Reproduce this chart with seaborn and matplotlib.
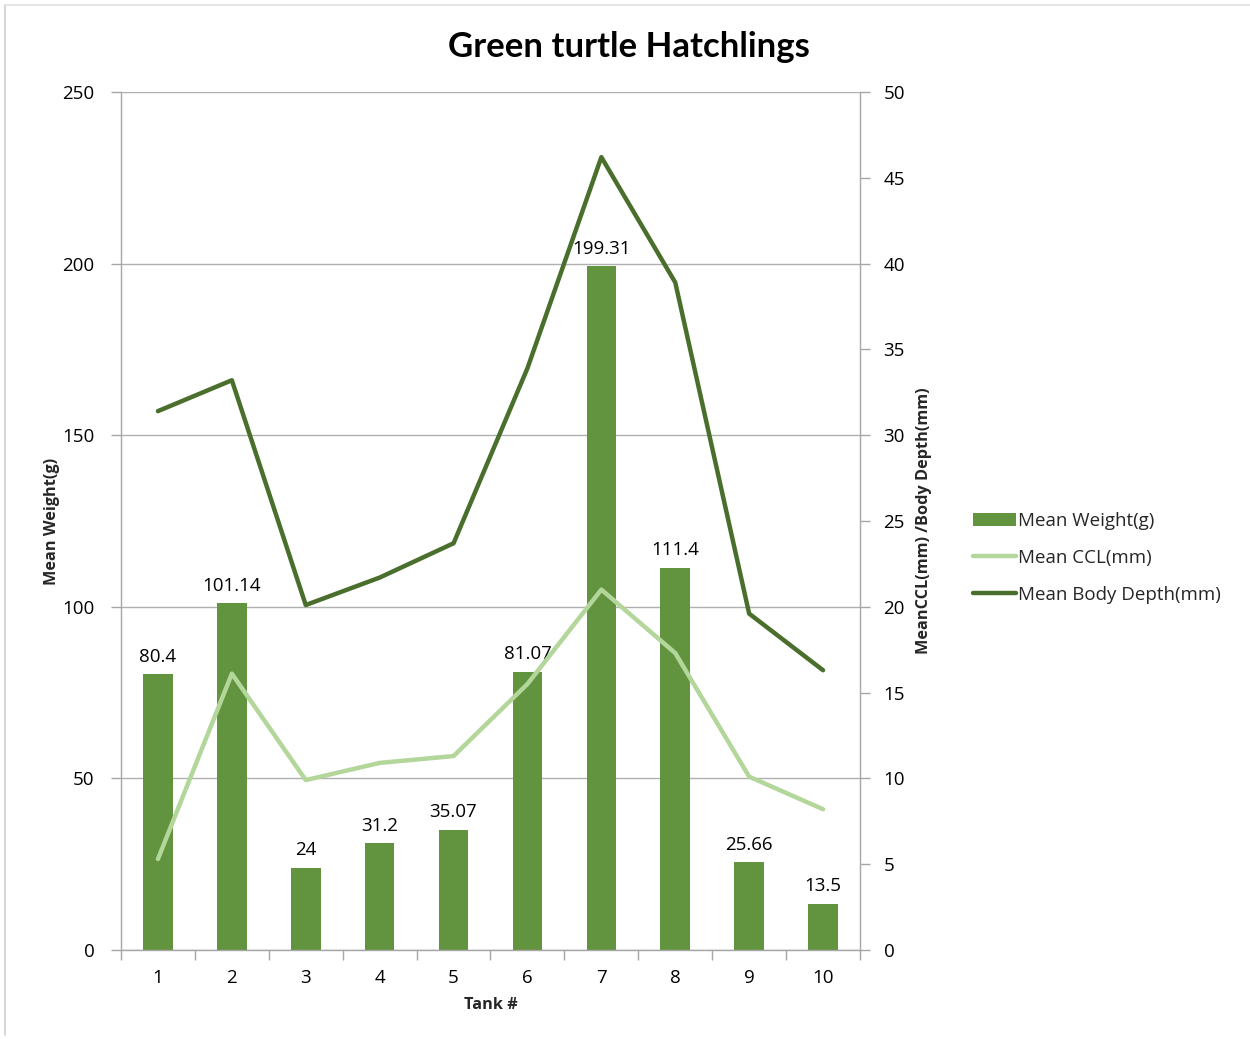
import matplotlib
matplotlib.use("Agg")
import matplotlib.pyplot as plt
from matplotlib.lines import Line2D
from matplotlib.patches import Patch
import seaborn as sns
import pandas as pd

tanks = ["1", "2", "3", "4", "5", "6", "7", "8", "9", "10"]
mean_weight = [80.4, 101.14, 24, 31.2, 35.07, 81.07, 199.31, 111.4, 25.66, 13.5]
mean_ccl = [5.3, 16.1, 9.9, 10.9, 11.3, 15.5, 21.0, 17.3, 10.1, 8.2]
mean_body_depth = [31.4, 33.2, 20.1, 21.7, 23.7, 33.9, 46.2, 38.9, 19.6, 16.3]

bar_color = "#62933F"
ccl_color = "#B3D69A"
depth_color = "#4A6F2D"
axis_gray = "#A6A6A6"
font = "Open Sans"
fs = 13.5
label_fs = 11.7

sns.set_theme(style="white")
plt.rcParams["font.family"] = [font, "DejaVu Sans"]

df = pd.DataFrame({"tank": tanks, "weight": mean_weight,
                   "ccl": mean_ccl, "depth": mean_body_depth})
df["pos"] = range(len(df))

fig = plt.figure(figsize=(12.5, 10.39), dpi=100)
ax = fig.add_axes([0.0968, 0.0857, 0.5912, 0.8258])

sns.barplot(data=df, x="tank", y="weight", color=bar_color, saturation=1,
            width=0.4, ax=ax, zorder=2)
for b in ax.patches:
    b.set_edgecolor("none")
ax.bar_label(ax.containers[0], labels=[f"{v:g}" for v in mean_weight],
             padding=6, fontsize=fs, color="#000000")

ax.set_xlim(-0.5, len(tanks) - 0.5)
ax.set_ylim(0, 250)
ax.set_yticks([0, 50, 100, 150, 200, 250])
ax.yaxis.grid(True, color="#B0B0B0", linewidth=1, zorder=0)
ax.set_axisbelow(True)

# category labels centred, tick marks on the boundaries
ax.set_xticks([i for i in range(len(tanks))], minor=True)
ax.set_xticklabels(tanks, minor=True)
ax.set_xticks([i - 0.5 for i in range(len(tanks) + 1)])
ax.set_xticklabels([])
ax.tick_params(axis="x", which="major", length=7, color=axis_gray, width=1,
               direction="out", bottom=True)
ax.tick_params(axis="x", which="minor", length=0, labelsize=fs, pad=14,
               labelcolor="#000000")
ax.tick_params(axis="y", length=7, color=axis_gray, width=1, direction="out",
               left=True, labelsize=fs, pad=12, labelcolor="#000000")

for s in ["left", "bottom", "right"]:
    ax.spines[s].set_visible(True)
    ax.spines[s].set_color(axis_gray)
    ax.spines[s].set_linewidth(1)
ax.spines["top"].set_visible(False)

ax.set_xlabel("Tank #", fontsize=label_fs, fontweight="bold", labelpad=7)
ax.set_ylabel("Mean Weight(g)", fontsize=label_fs, fontweight="bold", labelpad=2)

ax2 = ax.twinx()
sns.lineplot(data=df, x="pos", y="ccl", color=ccl_color, linewidth=3.2, ax=ax2)
sns.lineplot(data=df, x="pos", y="depth", color=depth_color, linewidth=3.2, ax=ax2)
ax2.set_xlim(-0.5, len(tanks) - 0.5)
ax2.set_ylim(0, 50)
ax2.set_yticks([0, 5, 10, 15, 20, 25, 30, 35, 40, 45, 50])
ax2.tick_params(axis="y", length=7, color=axis_gray, width=1, direction="out",
                right=True, labelsize=fs, pad=10, labelcolor="#000000")
for s in ax2.spines.values():
    s.set_visible(False)
ax2.set_ylabel("MeanCCL(mm) /Body Depth(mm)", fontsize=label_fs,
               fontweight="bold", labelpad=8)
ax2.grid(False)

fig.suptitle("Green turtle Hatchlings", x=0.503, y=0.955, va="center",
             fontsize=25, fontweight="bold", color="#000000",
             family=["Lato", "DejaVu Sans"])

handles = [
    Patch(facecolor=bar_color, edgecolor="none"),
    Line2D([], [], color=ccl_color, linewidth=3.2),
    Line2D([], [], color=depth_color, linewidth=3.2),
]
fig.legend(handles, ["Mean Weight(g)", "Mean CCL(mm)", "Mean Body Depth(mm)"],
           loc="center left", bbox_to_anchor=(0.772, 0.463), frameon=False,
           fontsize=fs, handlelength=2.3, handletextpad=0.1, labelspacing=1.0,
           borderaxespad=0)

# thin outline along the chart's top and left edges
fig.add_artist(Line2D([0.004, 0.004], [0.004, 0.995], transform=fig.transFigure,
                      color="#D0D0D0", linewidth=1.2))
fig.add_artist(Line2D([0.004, 1.0], [0.995, 0.995], transform=fig.transFigure,
                      color="#E0E0E0", linewidth=1.2))

fig.savefig("out.png", dpi=100)
